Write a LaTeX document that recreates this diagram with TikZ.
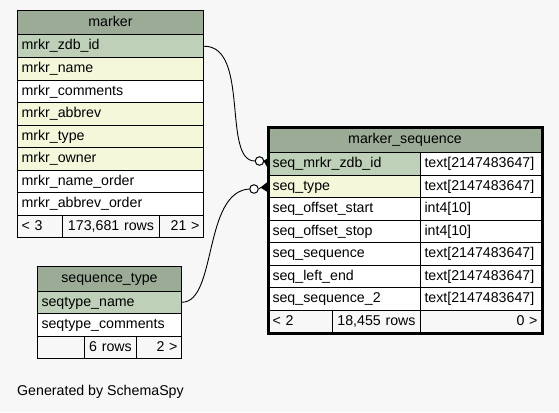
\documentclass[tikz,border=0pt]{standalone}
\usepackage{fontspec}
\setmainfont{Liberation Sans}
\definecolor{bgc}{HTML}{F7F7F7}
\definecolor{headc}{HTML}{9BAB96}
\definecolor{pkc}{HTML}{BED1B8}
\definecolor{idxc}{HTML}{F4F7DA}
\definecolor{footc}{HTML}{F7F7F7}
\newcommand{\cellfont}{\fontsize{14.2}{16}\selectfont}
\tikzset{
  cellbase/.style={draw=black, line width=1pt, anchor=north west, inner xsep=4pt, inner ysep=0pt,
    text height=10.5pt, text depth=3pt, font=\cellfont},
  cl/.style={cellbase, align=left},
  cc/.style={cellbase, align=center},
  cr/.style={cellbase, align=right},
  head/.style={fill=headc},
  pk/.style={fill=pkc},
  idx/.style={fill=idxc},
  plain/.style={fill=white},
  foot/.style={fill=footc},
  edge/.style={draw=black, line width=0.9pt},
  odot/.style={circle, draw=black, line width=1pt, fill=white, inner sep=0pt, minimum size=8.5pt},
  crow/.style={fill=black, draw=black, line width=0.6pt},
  thickframe/.style={draw=black, line width=3pt}
}
% \tcell{style}{name}{x}{y}{text width}{height}{text}
\newcommand{\tcell}[7]{\node[#1, text width=#5pt, minimum height=#6pt] (#2) at (#3,#4) {#7};}
\begin{document}
\begin{tikzpicture}[x=1pt,y=-1pt]
\fill[bgc] (0,0) rectangle (559,412);
\useasboundingbox (0,0) rectangle (559,412);

% ---- marker table ----
\tcell{cc,head}{mh}{17}{10}{178}{24.5}{marker}
\tcell{cl,pk}{mzdb}{17}{34.5}{178}{22.5}{mrkr\_zdb\_id}
\tcell{cl,idx}{mname}{17}{57}{178}{22.5}{mrkr\_name}
\tcell{cl,plain}{mcom}{17}{79.5}{178}{22.5}{mrkr\_comments}
\tcell{cl,idx}{mabbr}{17}{102}{178}{22.5}{mrkr\_abbrev}
\tcell{cl,idx}{mtype}{17}{124.5}{178}{22.5}{mrkr\_type}
\tcell{cl,idx}{mown}{17}{147}{178}{22.5}{mrkr\_owner}
\tcell{cl,plain}{mno}{17}{169.5}{178}{22.5}{mrkr\_name\_order}
\tcell{cl,plain}{mao}{17}{192}{178}{22.5}{mrkr\_abbrev\_order}
\tcell{cl,foot}{mf1}{17}{214.5}{37}{22.5}{< 3}
\tcell{cc,foot}{mf2}{62}{214.5}{89}{22.5}{173,681 rows}
\tcell{cr,foot}{mf3}{159}{214.5}{36}{22.5}{21 >}

% ---- sequence_type table ----
\tcell{cc,head}{sth}{37}{266}{136}{24.5}{sequence\_type}
\tcell{cl,pk}{stname}{37}{290.5}{136}{22.5}{seqtype\_name}
\tcell{cl,plain}{stcom}{37}{313}{136}{22.5}{seqtype\_comments}
\tcell{cl,foot}{stf1}{37}{335.5}{39}{22.5}{}
\tcell{cc,foot}{stf2}{84}{335.5}{44}{22.5}{6 rows}
\tcell{cr,foot}{stf3}{136}{335.5}{37}{22.5}{2 >}

% ---- marker_sequence table ----
\tcell{cc,head}{msh}{268}{127}{265}{25}{marker\_sequence}
\tcell{cl,pk}{s1}{268}{152}{144}{22.5}{seq\_mrkr\_zdb\_id}
\tcell{cl,plain}{s1t}{420}{152}{113}{22.5}{text[2147483647]}
\tcell{cl,idx}{s2}{268}{174.5}{144}{22.5}{seq\_type}
\tcell{cl,plain}{s2t}{420}{174.5}{113}{22.5}{text[2147483647]}
\tcell{cl,plain}{s3}{268}{197}{144}{22.5}{seq\_offset\_start}
\tcell{cl,plain}{s3t}{420}{197}{113}{22.5}{int4[10]}
\tcell{cl,plain}{s4}{268}{219.5}{144}{22.5}{seq\_offset\_stop}
\tcell{cl,plain}{s4t}{420}{219.5}{113}{22.5}{int4[10]}
\tcell{cl,plain}{s5}{268}{242}{144}{22.5}{seq\_sequence}
\tcell{cl,plain}{s5t}{420}{242}{113}{22.5}{text[2147483647]}
\tcell{cl,plain}{s6}{268}{264.5}{144}{22.5}{seq\_left\_end}
\tcell{cl,plain}{s6t}{420}{264.5}{113}{22.5}{text[2147483647]}
\tcell{cl,plain}{s7}{268}{287}{144}{22.5}{seq\_sequence\_2}
\tcell{cl,plain}{s7t}{420}{287}{113}{22.5}{text[2147483647]}
\tcell{cl,foot}{sf1}{268}{309.5}{56}{22.5}{< 2}
\tcell{cc,foot}{sf2}{332}{309.5}{80}{22.5}{18,455 rows}
\tcell{cr,foot}{sf3}{420}{309.5}{113}{22.5}{0 >}
\draw[thickframe] (msh.north west) rectangle (sf3.south east);

% ---- connectors ----
\node[odot] (c1) at (259.5,161) {};
\node[odot] (c2) at (254,189) {};
\draw[edge] (mzdb.east) .. controls (250,45.75) and (222,161) .. (c1.west);
\draw[edge] (stname.east) .. controls (217,302) and (203,192) .. (c2.west);
\coordinate (k1) at (264,161);
\coordinate (k2) at (261,187.5);
\fill[crow] (c1.east) -- (k1) -- (s1.west |- 0,158.5) -- (s1.west |- 0,168) -- (k1) -- cycle;
\draw[edge] (c1.east) -- (k1);
\fill[crow] (k2) -- (s2.west |- 0,182) -- (s2.west |- 0,192) -- cycle;
\draw[edge] (c2.east) -- (k2);

% ---- footer text ----
\node[anchor=west, inner sep=0pt, font=\cellfont] (gen) at (17,391.5) {Generated by SchemaSpy};
\end{tikzpicture}
\end{document}
